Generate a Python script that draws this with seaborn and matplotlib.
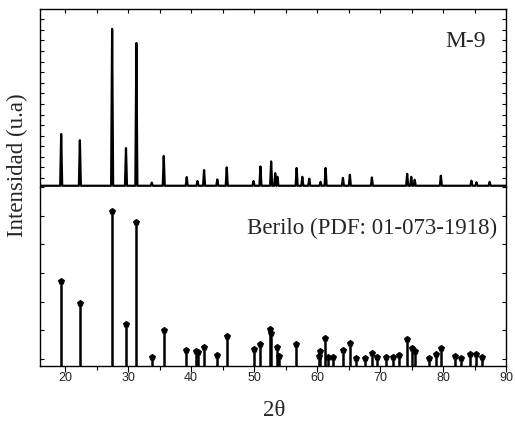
import matplotlib
matplotlib.use('Agg')
import matplotlib.pyplot as plt
import seaborn as sns
import numpy as np
from matplotlib.ticker import MultipleLocator, FixedLocator

# measured pattern M-9 (peak position 2theta, relative height)
m9_pos = [19.36, 22.33, 27.45, 29.65, 31.30, 33.75, 35.65, 39.30, 41.00, 42.05,
          44.15, 45.65, 49.90, 51.00, 52.70, 53.35, 53.70, 56.75, 57.65, 58.75,
          60.55, 61.35, 64.10, 65.20, 68.70, 74.30, 74.95, 75.50, 79.65, 84.50,
          85.30, 87.40]
m9_int = [33, 29, 100, 24, 91, 2, 19, 5.5, 3, 10,
          4, 11.7, 3, 12.3, 15.5, 8, 5.7, 11.3, 5.7, 4.5,
          2.5, 11.3, 5, 7, 5.3, 7.6, 5.7, 3.8, 6.4, 3.2,
          2.2, 2.5]

# reference card Berilo PDF 01-073-1918
pdf_pos = [19.32, 22.33, 27.47, 29.65, 31.24, 33.72, 35.63, 39.24, 40.78, 41.10,
           42.05, 44.10, 45.62, 49.90, 50.95, 52.55, 52.70, 53.65, 54.00, 56.70,
           60.30, 60.45, 61.32, 61.78, 62.50, 64.10, 65.15, 66.10, 67.62, 68.70,
           69.50, 71.00, 72.12, 72.95, 74.30, 75.08, 75.55, 77.70, 78.80, 79.70,
           81.85, 82.90, 84.30, 85.30, 86.15]
pdf_int = [543, 388, 1033, 242, 955, 16, 202, 60, 57, 49,
           81, 27, 163, 70, 103, 207, 179, 86, 22, 104,
           21, 58, 143, 16, 16, 63, 109, 8, 9, 40,
           12, 12, 12, 24, 137, 79, 58, 9, 35, 73,
           21, 9, 36, 31, 14]

# build the line of the measured pattern from the read peaks
half_w = 0.16
line_x, line_y = [16.0], [0.0]
for p, h in zip(m9_pos, m9_int):
    line_x += [p - half_w, p, p + half_w]
    line_y += [0.0, h, 0.0]
line_x.append(90.0)
line_y.append(0.0)

sns.set_theme(style='ticks')
plt.rcParams['font.family'] = ['Liberation Sans', 'DejaVu Sans']
serif = ['Liberation Serif', 'DejaVu Serif']

fig = plt.figure(figsize=(5.15, 4.21), dpi=100)
ax1 = fig.add_axes([0.0777, 0.5558, 0.9049, 0.4228])
ax2 = fig.add_axes([0.0777, 0.1306, 0.9049, 0.4252])

sns.lineplot(x=line_x, y=line_y, sort=False, estimator=None, color='black',
             linewidth=1.6, ax=ax1)
ax1.set_xlim(16, 90)
ax1.set_ylim(-0.8, 112.7)

ax2.vlines(pdf_pos, -50, pdf_int, color='black', linewidth=1.8)
sns.scatterplot(x=pdf_pos, y=pdf_int, marker='p', s=22, color='black',
                edgecolor='black', linewidth=0.5, ax=ax2, zorder=3)
ax2.set_xlim(16, 90)
ax2.set_ylim(-50, 1200)

for ax in (ax1, ax2):
    for s in ax.spines.values():
        s.set_linewidth(1.0)
        s.set_color('black')
    ax.xaxis.set_major_locator(MultipleLocator(10))
    ax.xaxis.set_minor_locator(MultipleLocator(5))
    ax.set_ylabel('')
    ax.set_xlabel('')
    ax.tick_params(axis='y', which='both', left=True, right=True,
                   labelleft=False, labelright=False, length=3, width=0.8,
                   color='black', direction='in')

ax1.spines['bottom'].set_visible(False)
ax2.spines['top'].set_visible(False)

ax1.yaxis.set_major_locator(FixedLocator(np.arange(4.9, 113, 6.75)))
ax2.yaxis.set_major_locator(MultipleLocator(200))

ax1.tick_params(axis='x', which='both', bottom=False, top=True,
                labelbottom=False, labeltop=False, direction='in', length=3,
                width=0.8, color='black')
ax2.tick_params(axis='x', which='major', bottom=True, top=False, direction='out',
                length=4, width=0.8, pad=0, labelsize=9, color='black',
                labelcolor='#222222')
ax2.tick_params(axis='x', which='minor', bottom=True, top=False, direction='out',
                length=3, width=0.8, color='black')

ax1.text(0.914, 0.815, 'M-9', transform=ax1.transAxes, ha='center', va='center',
         fontsize=17, family=serif)
ax2.text(0.981, 0.771, 'Berilo (PDF: 01-073-1918)', transform=ax2.transAxes,
         ha='right', va='center', fontsize=16.5, family=serif)

fig.text(0.033, 1 - 165 / 421, 'Intensidad (u.a)', rotation=90, ha='center',
         va='center', fontsize=16.5, family=serif)
fig.text(0.532, 1 - 411 / 421, '2θ', ha='center', va='center',
         fontsize=16.5, family=serif)

fig.savefig('out.png', dpi=100)
